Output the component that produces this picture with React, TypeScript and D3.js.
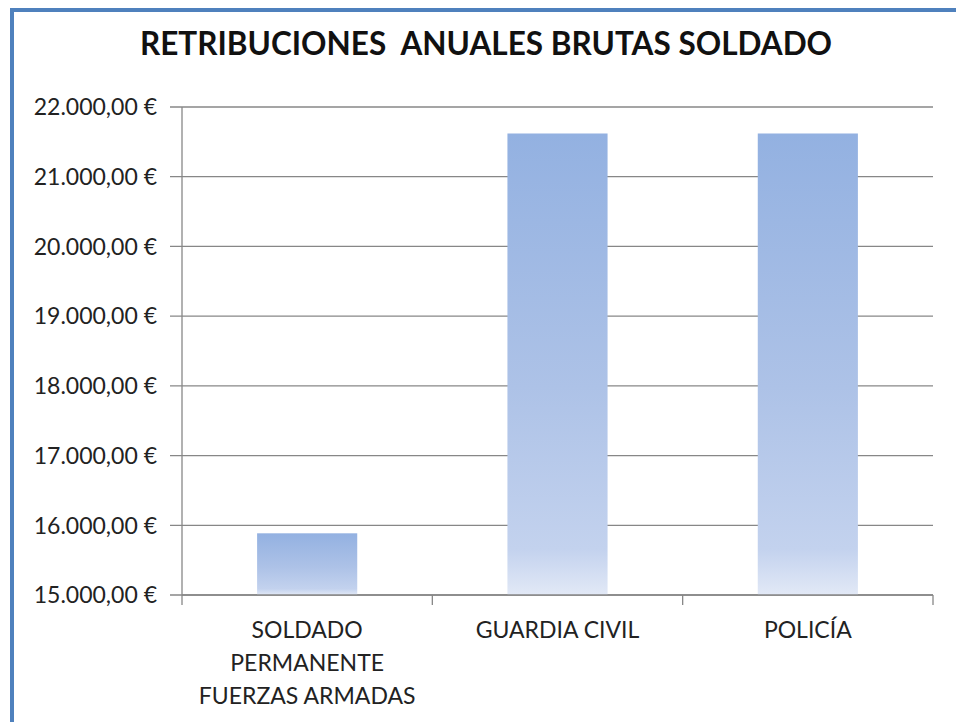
import React, { useEffect, useRef } from 'react';
import * as d3 from 'd3';

// Chart data
const categories = ['SOLDADO PERMANENTE FUERZAS ARMADAS', 'GUARDIA CIVIL', 'POLICÍA'];
const categoryLines = [['SOLDADO', 'PERMANENTE', 'FUERZAS ARMADAS'], ['GUARDIA CIVIL'], ['POLICÍA']];
const salaries = [15885, 21620, 21620];
const yTicks = [15000, 16000, 17000, 18000, 19000, 20000, 21000, 22000];
const title = 'RETRIBUCIONES  ANUALES BRUTAS SOLDADO';

const FONT = 'Lato, "Open Sans", sans-serif';

const App = () => {
  const d3Container = useRef<SVGSVGElement | null>(null);

  useEffect(() => {
    if (!d3Container.current) return;
    const svg = d3.select(d3Container.current);
    svg.selectAll('*').remove();

    const width = 956, height = 722;
    const plot = { left: 182, right: 933, top: 107, bottom: 595 };

    // background and frame
    svg.append('rect').attr('width', width).attr('height', height).attr('fill', '#ffffff');
    svg.append('rect').attr('x', 10).attr('y', 8).attr('width', width - 10).attr('height', 4).attr('fill', '#4f81bd');
    svg.append('rect').attr('x', 10).attr('y', 8).attr('width', 4).attr('height', height - 8).attr('fill', '#4f81bd');

    // gradient for bars (each bar gets the full fade)
    const defs = svg.append('defs');
    const grad = defs.append('linearGradient')
      .attr('id', 'barGrad')
      .attr('x1', 0).attr('x2', 0)
      .attr('y1', 0).attr('y2', 1);
    grad.append('stop').attr('offset', '0%').attr('stop-color', '#93b1e1');
    grad.append('stop').attr('offset', '55%').attr('stop-color', '#adc2e7');
    grad.append('stop').attr('offset', '90%').attr('stop-color', '#c3d2ee');
    grad.append('stop').attr('offset', '100%').attr('stop-color', '#e2e9f6');

    // title
    svg.append('text')
      .attr('x', 486)
      .attr('y', 55)
      .attr('text-anchor', 'middle')
      .attr('font-family', FONT)
      .attr('font-weight', 'bold')
      .attr('font-size', 31.5)
      .attr('fill', '#111111')
      .style('white-space', 'pre')
      .text(title);

    // scales
    const x = d3.scaleBand()
      .domain(categories)
      .range([plot.left, plot.right])
      .paddingInner(0.6)
      .paddingOuter(0.3);

    const y = d3.scaleLinear()
      .domain([15000, 22000])
      .range([plot.bottom, plot.top]);

    // gridlines
    svg.append('g')
      .selectAll('line')
      .data(yTicks)
      .enter()
      .append('line')
        .attr('x1', plot.left - 12)
        .attr('x2', plot.right)
        .attr('y1', d => y(d))
        .attr('y2', d => y(d))
        .attr('stroke', '#878787')
        .attr('stroke-width', 1.3);

    // bars
    svg.append('g')
      .selectAll('rect')
      .data(salaries)
      .enter()
      .append('rect')
        .attr('x', (d, i) => x(categories[i]) as number)
        .attr('y', d => y(d))
        .attr('width', x.bandwidth())
        .attr('height', d => plot.bottom - y(d))
        .attr('fill', 'url(#barGrad)');

    // y axis line
    svg.append('line')
      .attr('x1', plot.left).attr('x2', plot.left)
      .attr('y1', plot.top).attr('y2', plot.bottom + 10)
      .attr('stroke', '#878787').attr('stroke-width', 1.3);

    // x axis line and category ticks
    svg.append('line')
      .attr('x1', plot.left).attr('x2', plot.right)
      .attr('y1', plot.bottom).attr('y2', plot.bottom)
      .attr('stroke', '#878787').attr('stroke-width', 1.3);

    const step = x.step();
    svg.append('g')
      .selectAll('line')
      .data(categories)
      .enter()
      .append('line')
        .attr('x1', (d) => (x(d) as number) + x.bandwidth() / 2 + step / 2)
        .attr('x2', (d) => (x(d) as number) + x.bandwidth() / 2 + step / 2)
        .attr('y1', plot.bottom)
        .attr('y2', plot.bottom + 10)
        .attr('stroke', '#878787')
        .attr('stroke-width', 1.3);

    // y tick labels
    const fmt = (v: number) => d3.format(',.2f')(v).replace(/,/g, '#').replace('.', ',').replace(/#/g, '.') + ' €';
    svg.append('g')
      .selectAll('text')
      .data(yTicks)
      .enter()
      .append('text')
        .attr('x', 157)
        .attr('y', d => y(d))
        .attr('dy', '0.36em')
        .attr('text-anchor', 'end')
        .attr('font-family', FONT)
        .attr('font-size', 23)
        .attr('fill', '#222222')
        .text(d => fmt(d));

    // category labels
    const labels = svg.append('g')
      .selectAll('text')
      .data(categories)
      .enter()
      .append('text')
        .attr('x', d => (x(d) as number) + x.bandwidth() / 2)
        .attr('y', 638)
        .attr('text-anchor', 'middle')
        .attr('font-family', FONT)
        .attr('font-size', 23)
        .attr('fill', '#222222');

    labels.selectAll('tspan')
      .data((d, i) => categoryLines[i])
      .enter()
      .append('tspan')
        .attr('x', function () { return (this.parentNode as SVGTextElement).getAttribute('x'); })
        .attr('dy', (d, i) => (i === 0 ? 0 : 33))
        .text(d => d);
  }, []);

  return (
    <svg
      ref={d3Container}
      width={956}
      height={722}
      style={{ position: 'absolute', left: 0, top: 0, display: 'block' }}
    />
  );
};

export default App;
